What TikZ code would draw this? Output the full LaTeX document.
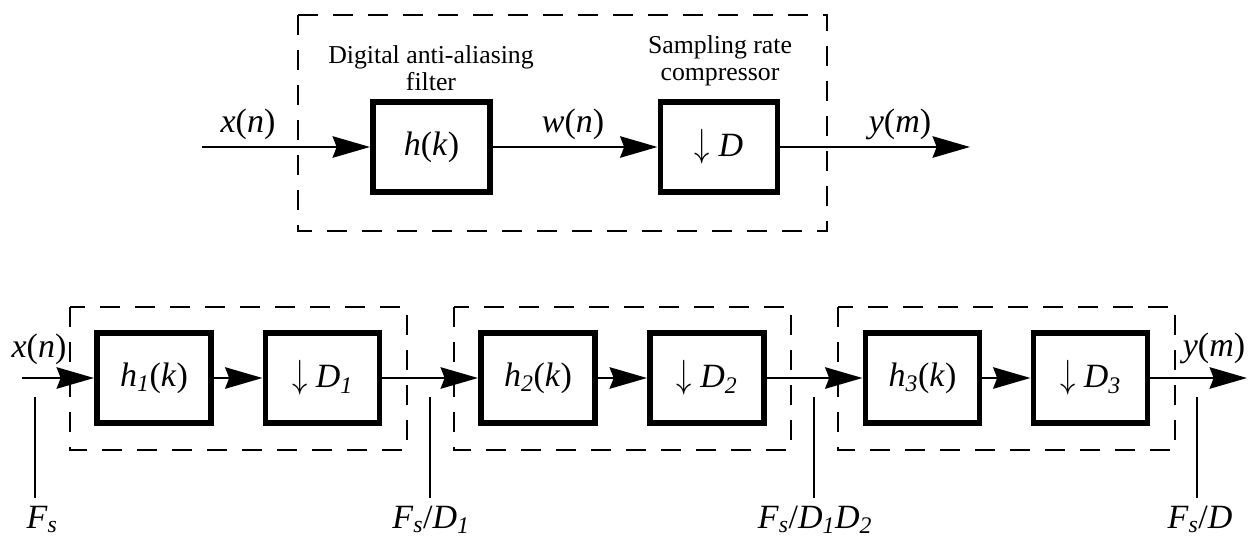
\documentclass[tikz,border=0pt]{standalone}
\usepackage{fontspec}
\setmainfont{Liberation Serif}
\usetikzlibrary{arrows.meta}

\newcommand{\vr}[1]{\textit{#1}}
\newcommand{\sbs}[1]{\textsubscript{\textit{#1}}}
\newcommand{\dn}{\scalebox{1.05}[1.35]{$\downarrow$}}

\begin{document}
\begin{tikzpicture}[
  x=0.03cm, y=-0.03cm,
  blk/.style={draw, line width=4.8pt, minimum width=3.52cm, minimum height=2.71cm, inner sep=0pt, font=\fontsize{29}{32}\selectfont},
  sblk/.style={blk, minimum width=3.43cm},
  lbl/.style={font=\fontsize{29}{32}\selectfont, inner sep=1pt},
  capt/.style={font=\fontsize{22}{23}\selectfont, align=center, inner sep=0pt},
  sig/.style={line width=2.4pt},
  arr/.style={sig, -{Stealth[length=1.12cm, width=0.64cm, inset=0.12cm]}},
  frame/.style={line width=2.5pt, dash pattern=on 0.6cm off 0.45cm}
]
\useasboundingbox (0,0) rectangle (1248,541);

% single-stage decimator
\coordinate (xin) at (202,147);
\node[blk] (filt) at (431.5,147) {\vr{h}(\vr{k})};
\node[blk] (comp) at (719,147) {\dn\ \vr{D}};
\coordinate (yout) at (970,147);
\draw[frame] (298,15) rectangle (827,231);

\node[capt] (filtcap) at (431,68) {Digital anti-aliasing\\filter};
\node[capt] (compcap) at (720,61) {Sampling rate\\compressor};

\draw[arr] (xin) -- (filt.west);
\draw[arr] (filt.east) -- (comp.west);
\draw[arr] (comp.east) -- (yout);

\node[lbl] (xlab) at (248,124) {\vr{x}(\vr{n})};
\node[lbl] (wlab) at (573,124) {\vr{w}(\vr{n})};
\node[lbl] (ylab) at (900,124) {\vr{y}(\vr{m})};

% three-stage decimator
\coordinate (xin2) at (22,378);
\node[sblk] (h1) at (154,378) {\vr{h}\sbs{1}(\vr{k})};
\node[sblk] (d1) at (322.5,378) {\dn\ \vr{D}\sbs{1}};
\node[sblk] (h2) at (538,378) {\vr{h}\sbs{2}(\vr{k})};
\node[sblk] (d2) at (707,378) {\dn\ \vr{D}\sbs{2}};
\node[sblk] (h3) at (922.5,378) {\vr{h}\sbs{3}(\vr{k})};
\node[sblk] (d3) at (1090.5,378) {\dn\ \vr{D}\sbs{3}};
\coordinate (yout2) at (1247,378);

\draw[frame] (70,307) rectangle (407,450);
\draw[frame] (454,307) rectangle (791,450);
\draw[frame] (838,307) rectangle (1175,450);

\draw[arr] (xin2) -- (h1.west);
\draw[arr] (h1.east) -- (d1.west);
\draw[arr] (d1.east) -- (h2.west);
\draw[arr] (h2.east) -- (d2.west);
\draw[arr] (d2.east) -- (h3.west);
\draw[arr] (h3.east) -- (d3.west);
\draw[arr] (d3.east) -- (yout2);

\node[lbl] (xlab2) at (39,349) {\vr{x}(\vr{n})};
\node[lbl] (ylab2) at (1214,348) {\vr{y}(\vr{m})};

% sampling rates
\node[lbl, anchor=base] (r0) at (42,528) {\vr{F}\sbs{s}};
\node[lbl, anchor=base] (r1) at (431,528) {\vr{F}\sbs{s}/\vr{D}\sbs{1}};
\node[lbl, anchor=base] (r2) at (815,528) {\vr{F}\sbs{s}/\vr{D}\sbs{1}\vr{D}\sbs{2}};
\node[lbl, anchor=base] (r3) at (1200,528) {\vr{F}\sbs{s}/\vr{D}};

\coordinate (t0) at (35,397);
\coordinate (t1) at (430,397);
\coordinate (t2) at (814,397);
\coordinate (t3) at (1197,397);
\foreach \t/\r in {t0/r0, t1/r1, t2/r2, t3/r3}
  \draw[sig, shorten >=0.2cm] (\t) -- (\t |- \r.north);
\end{tikzpicture}
\end{document}
